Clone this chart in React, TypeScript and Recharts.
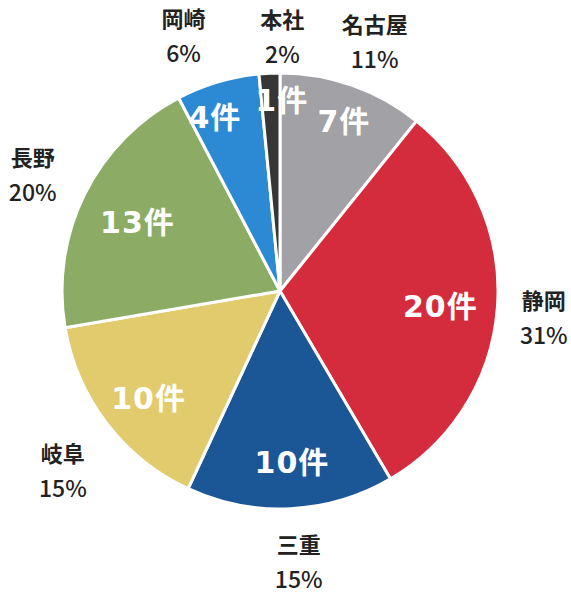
import { PieChart, Pie, Cell } from 'recharts';

const branches = ['名古屋', '静岡', '三重', '岐阜', '長野', '岡崎', '本社'];
const counts = [7, 20, 10, 10, 13, 4, 1];
const colors = ['#a2a1a6', '#d42b3d', '#1b5696', '#e2cb6c', '#8cac66', '#2b8ad3', '#363636'];

// label placement tweaks: angle shift (deg, clockwise), inner/outer radius in px
const labelLayout = [
  { shift: 1.3, inner: 181, outer: 268 },
  { shift: 1.3, inner: 161, outer: 265 },
  { shift: -1.2, inner: 172, outer: 270 },
  { shift: -2, inner: 170, outer: 281 },
  { shift: -0.8, inner: 158, outer: 274 },
  { shift: -4, inner: 185, outer: 274 },
  { shift: 3.3, inner: 191, outer: 256 },
];

const total = counts.reduce((a, b) => a + b, 0);
const chartData = branches.map((name, i) => ({ name, value: counts[i] }));

const RAD = Math.PI / 180;
const CJK = '"Noto Sans CJK JP", "Noto Sans", sans-serif';

function renderLabel(props: any) {
  const { cx, cy, midAngle, index } = props;
  const lay = labelLayout[index];
  // recharts angles run counterclockwise, so a clockwise shift subtracts
  const a = (midAngle - lay.shift) * RAD;
  const ix = cx + Math.cos(a) * lay.inner;
  const iy = cy - Math.sin(a) * lay.inner;
  const ox = cx + Math.cos(a) * lay.outer;
  const oy = cy - Math.sin(a) * lay.outer;
  const pct = Math.round((counts[index] / total) * 100);
  return (
    <g key={`lbl-${index}`}>
      <text
        x={ix}
        y={iy}
        fill="#fff"
        textAnchor="middle"
        dominantBaseline="central"
        fontFamily={`"DejaVu Sans", ${CJK}`}
        fontWeight="bold"
        fontSize={30}
        letterSpacing={1}
      >
        {counts[index]}件
      </text>
      <text
        x={ox}
        y={oy - 17.5}
        fill="#222"
        textAnchor="middle"
        dominantBaseline="central"
        fontFamily={CJK}
        fontWeight="bold"
        fontSize={22}
      >
        {branches[index]}
      </text>
      <text
        x={ox}
        y={oy + 17.5}
        fill="#222"
        textAnchor="middle"
        dominantBaseline="central"
        fontFamily={CJK}
        fontWeight={500}
        fontSize={23}
      >
        {pct}%
      </text>
    </g>
  );
}

export default function App() {
  return (
    <div style={{ position: 'absolute', left: 0, top: 0, width: 571, height: 595, background: '#fff' }}>
      <PieChart width={571} height={595} margin={{ top: 0, right: 0, bottom: 0, left: 0 }}>
        <Pie
          data={chartData}
          dataKey="value"
          nameKey="name"
          cx={280}
          cy={291}
          outerRadius={218}
          startAngle={90}
          endAngle={-270}
          stroke="#fff"
          strokeWidth={3}
          label={renderLabel}
          labelLine={false}
          isAnimationActive={false}
        >
          {chartData.map((d, i) => (
            <Cell key={d.name} fill={colors[i]} />
          ))}
        </Pie>
      </PieChart>
    </div>
  );
}
